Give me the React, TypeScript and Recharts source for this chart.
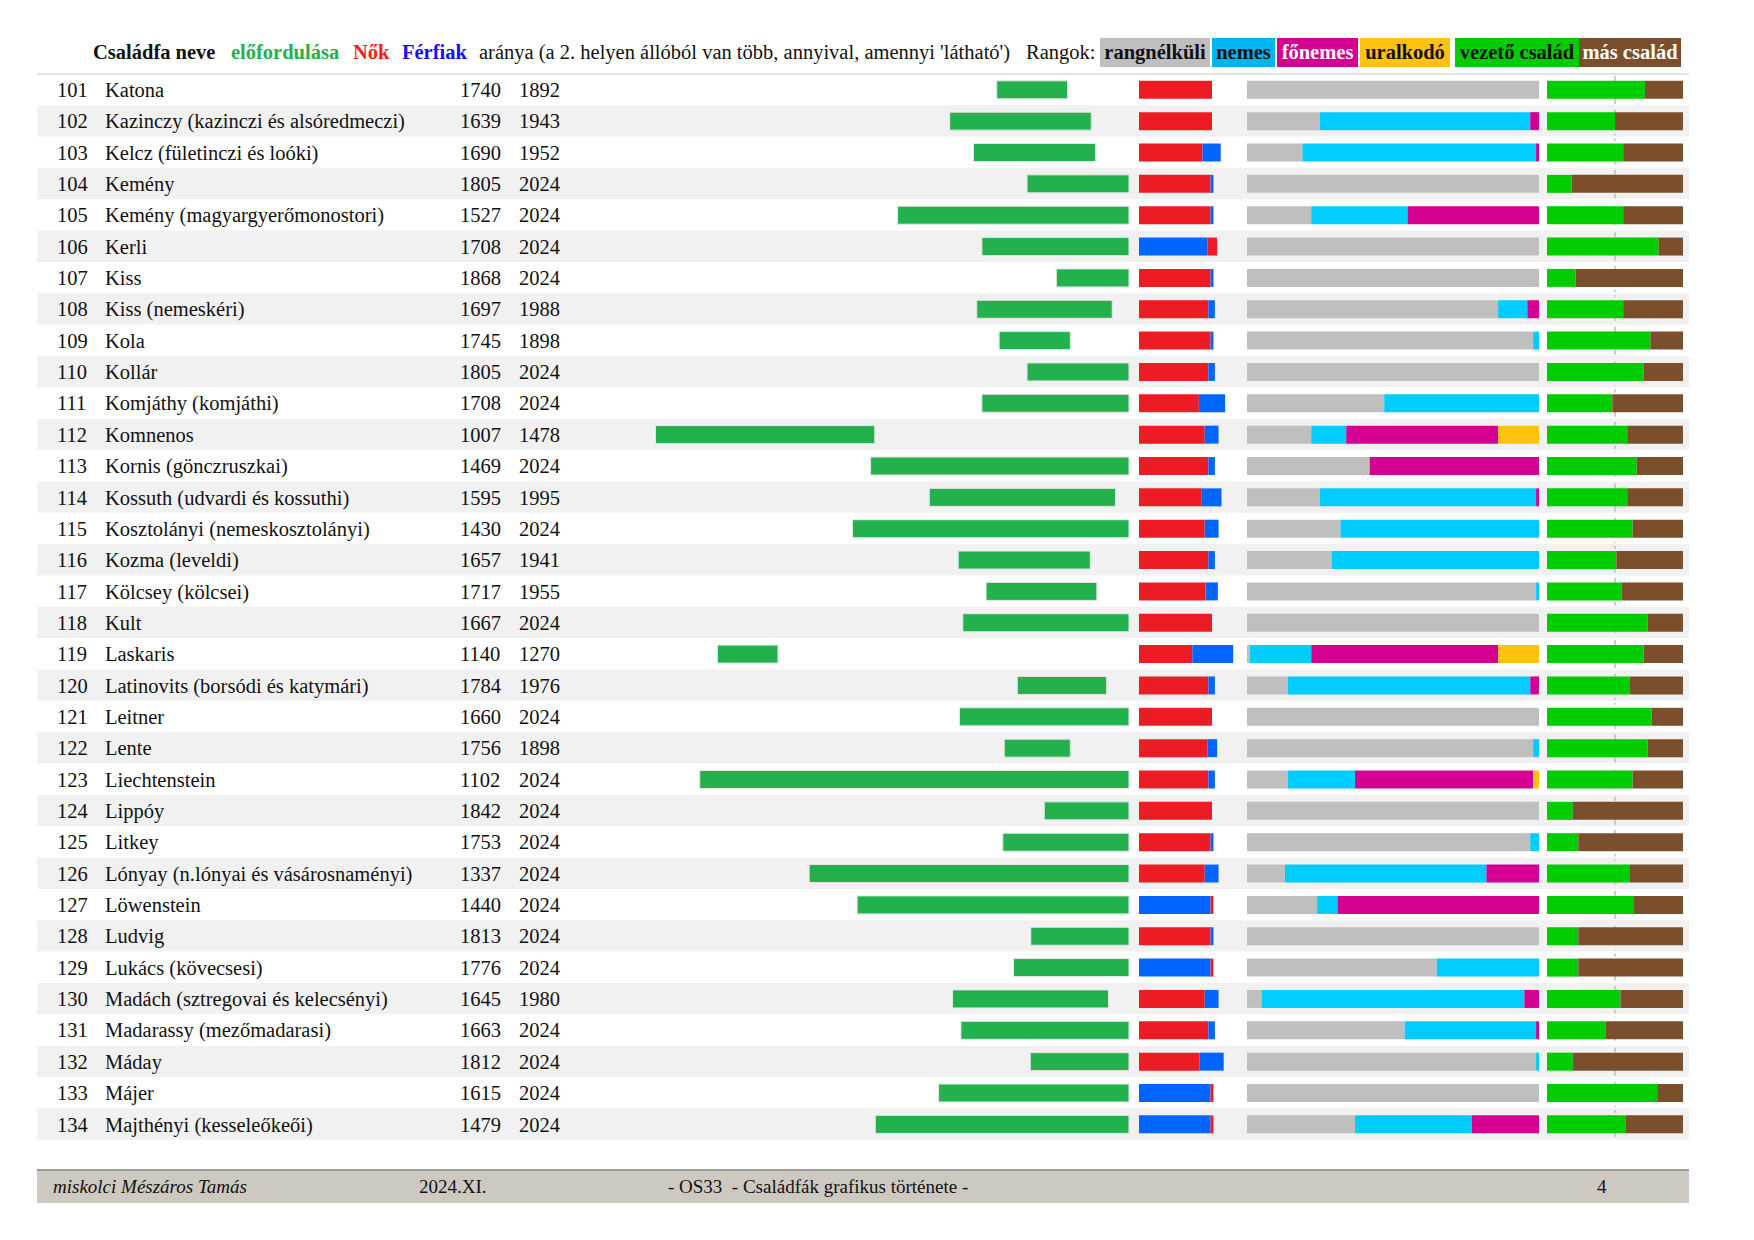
import React from 'react';
import { ComposedChart, Bar, XAxis, YAxis, ReferenceArea, LabelList } from 'recharts';

const rowNumbers = ['101','102','103','104','105','106','107','108','109','110','111','112','113','114','115','116','117','118','119','120','121','122','123','124','125','126','127','128','129','130','131','132','133','134'];
const familyNames = [
  'Katona', 'Kazinczy (kazinczi és alsóredmeczi)', 'Kelcz (fületinczi és loóki)', 'Kemény',
  'Kemény (magyargyerőmonostori)', 'Kerli', 'Kiss', 'Kiss (nemeskéri)', 'Kola', 'Kollár',
  'Komjáthy (komjáthi)', 'Komnenos', 'Kornis (gönczruszkai)', 'Kossuth (udvardi és kossuthi)',
  'Kosztolányi (nemeskosztolányi)', 'Kozma (leveldi)', 'Kölcsey (kölcsei)', 'Kult', 'Laskaris',
  'Latinovits (borsódi és katymári)', 'Leitner', 'Lente', 'Liechtenstein', 'Lippóy', 'Litkey',
  'Lónyay (n.lónyai és vásárosnaményi)', 'Löwenstein', 'Ludvig', 'Lukács (kövecsesi)',
  'Madách (sztregovai és kelecsényi)', 'Madarassy (mezőmadarasi)', 'Máday', 'Májer', 'Majthényi (kesseleőkeői)'
];
const firstYears = [1740,1639,1690,1805,1527,1708,1868,1697,1745,1805,1708,1007,1469,1595,1430,1657,1717,1667,1140,1784,1660,1756,1102,1842,1753,1337,1440,1813,1776,1645,1663,1812,1615,1479];
const lastYears = [1892,1943,1952,2024,2024,2024,2024,1988,1898,2024,2024,1478,2024,1995,2024,1941,1955,2024,1270,1976,2024,1898,2024,2024,2024,2024,2024,2024,2024,1980,2024,2024,2024,2024];
// N = nők (women) in first place, F = férfiak (men) in first place
const leadingSex = ['N','N','N','N','N','F','N','N','N','N','N','N','N','N','N','N','N','N','N','N','N','N','N','N','N','N','F','N','F','N','N','N','F','F'];
const leadingShare = [100,100,87,98,98,94,98,95,98,95,82,90,95,86,90,95,91,100,73,95,100,94,95,100,98,90,98,98,98,90,95,83,98,98];
const secondShare = [0,0,25,4,4,13,4,9,4,9,36,19,9,27,19,9,17,0,56,9,0,13,9,0,4,19,4,4,4,19,9,33,4,4];
const rankNone = [100,25,19,100,22,100,100,86,98,100,47,22,42,25,32,29,99,100,1,14,100,98,14,100,97,13,24,100,65,5,54,99,100,37];
const rankNoble = [0,72,80,0,33,0,0,10,2,0,53,12,0,74,68,71,1,0,21,83,0,2,23,0,3,69,7,0,35,90,45,1,0,40];
const rankHighNoble = [0,3,1,0,45,0,0,4,0,0,0,52,58,1,0,0,0,0,64,3,0,0,61,0,0,18,69,0,0,5,1,0,0,23];
const rankRuler = [0,0,0,0,0,0,0,0,0,0,0,14,0,0,0,0,0,0,14,0,0,0,2,0,0,0,0,0,0,0,0,0,0,0];
const leadingFamily = [72,50,56,18,56,82,21,56,76,71,48,59,66,59,63,51,55,74,71,61,77,74,63,19,23,61,64,23,23,54,43,19,81,58];
const otherFamily = [28,50,44,82,44,18,79,44,24,29,52,41,34,41,37,49,45,26,29,39,23,26,37,81,77,39,36,77,77,46,57,81,19,42];
const familyHalfMark = 50;

const rows = rowNumbers.map((num, i) => ({
  num,
  span: [firstYears[i], lastYears[i]],
  womenFirst: leadingSex[i] === 'N' ? leadingShare[i] : 0,
  men: leadingSex[i] === 'N' ? secondShare[i] : leadingShare[i],
  womenSecond: leadingSex[i] === 'N' ? 0 : secondShare[i],
  none: rankNone[i],
  noble: rankNoble[i],
  high: rankHighNoble[i],
  ruler: rankRuler[i],
  lead: leadingFamily[i],
  other: otherFamily[i],
  half: familyHalfMark,
}));

const C = {
  timeline: '#22B14C',
  women: '#ED1C24',
  men: '#0066FF',
  none: '#BFBFBF',
  noble: '#00CCFF',
  high: '#D40092',
  ruler: '#FFC20E',
  lead: '#00CC00',
  other: '#7B4F2C',
  stripe: '#F1F1F1',
  text: '#111111',
};

const FONT = '"Liberation Serif", "Times New Roman", serif';
const PLOT_LEFT = 37;
const PLOT_RIGHT = 1689;
const PLOT_TOP = 73.8;
const PLOT_BOTTOM = 1139.7;
const ROW_PITCH = (PLOT_BOTTOM - PLOT_TOP) / 34;

const axisDomain = (v0: number, p0: number, v1: number, p1: number): [number, number] => {
  const k = (p1 - p0) / (v1 - v0);
  return [v0 - (p0 - PLOT_LEFT) / k, v1 + (PLOT_RIGHT - p1) / k];
};
const yearDomain = axisDomain(1007, 655.5, 2024, 1129);
const ratioDomain = axisDomain(0, 1139, 100, 1212);
const rankDomain = axisDomain(0, 1247, 100, 1539);
const familyDomain = axisDomain(0, 1547, 100, 1683);

const RowLabel = (props: any) => {
  const { index, y, height } = props;
  if (index == null || index < 0 || index >= rowNumbers.length) return null;
  const cy = Number(y) + Number(height) / 2;
  const common = { y: cy, dy: '0.35em', fill: C.text, fontFamily: FONT, fontSize: 20.5 } as any;
  return (
    <g>
      <text {...common} x={57}>{rowNumbers[index]}</text>
      <text {...common} x={105}>{familyNames[index]}</text>
      <text {...common} x={460}>{firstYears[index]}</text>
      <text {...common} x={519}>{lastYears[index]}</text>
    </g>
  );
};

const DashedMark = (props: any) => {
  const { x, y, width, height } = props;
  const lx = Number(x) + Number(width);
  return (
    <line x1={lx} x2={lx} y1={y} y2={Number(y) + Number(height)} stroke="#BDBDBD" strokeWidth={1.5}
      strokeDasharray="7 5" strokeDashoffset={Number(y) - PLOT_TOP} />
  );
};

const headerItems = [
  { text: 'Családfa neve', x: 93, color: '#111', bold: true },
  { text: 'előfordulása', x: 231, color: '#22B14C', bold: true },
  { text: 'Nők', x: 353, color: '#FF1A1A', bold: true },
  { text: 'Férfiak', x: 402, color: '#1010FF', bold: true },
  { text: "aránya (a 2. helyen állóból van több, annyival, amennyi 'látható')", x: 479, color: '#111', bold: false },
  { text: 'Rangok:', x: 1026, color: '#111', bold: false },
];
const legendBoxes = [
  { text: 'rangnélküli', x: 1100, w: 110, bg: C.none, color: '#111' },
  { text: 'nemes', x: 1212, w: 63, bg: '#00B4F0', color: '#111' },
  { text: 'főnemes', x: 1277, w: 81, bg: C.high, color: '#fff' },
  { text: 'uralkodó', x: 1360, w: 90, bg: C.ruler, color: '#111' },
  { text: 'vezető család', x: 1455, w: 124, bg: C.lead, color: '#111' },
  { text: 'más család', x: 1579, w: 102, bg: C.other, color: '#fff' },
];
const footerItems = [
  { text: 'miskolci Mészáros Tamás', x: 53, italic: true },
  { text: '2024.XI.', x: 419, italic: false },
  { text: '- OS33  - Családfák grafikus története -', x: 668, italic: false },
  { text: '4', x: 1597, italic: false },
];

export default function App() {
  return (
    <div style={{ position: 'absolute', left: 0, top: 0, width: 1754, height: 1240, background: '#fff', fontFamily: FONT, overflow: 'hidden' }}>
      {headerItems.map((h) => (
        <div key={h.text} style={{ position: 'absolute', left: h.x, top: 38, height: 29, lineHeight: '29px', fontSize: 20.5, fontWeight: h.bold ? 700 : 400, color: h.color, whiteSpace: 'pre' }}>{h.text}</div>
      ))}
      {legendBoxes.map((b) => (
        <div key={b.text} style={{ position: 'absolute', left: b.x, top: 38, width: b.w, height: 29, lineHeight: '29px', background: b.bg, color: b.color, fontSize: 20.5, fontWeight: 700, textAlign: 'center', whiteSpace: 'pre' }}>{b.text}</div>
      ))}
      <div style={{ position: 'absolute', left: PLOT_LEFT, top: 72.5, width: PLOT_RIGHT - PLOT_LEFT, height: 2, background: '#E2E2E2' }} />
      <div style={{ position: 'absolute', left: 0, top: 0 }}>
        <ComposedChart
          width={1754}
          height={1240}
          data={rows}
          layout="vertical"
          barCategoryGap={0}
          margin={{ top: PLOT_TOP, bottom: 1240 - PLOT_BOTTOM, left: PLOT_LEFT, right: 1754 - PLOT_RIGHT }}
        >
          <XAxis xAxisId="yr" type="number" domain={yearDomain} allowDataOverflow hide />
          <XAxis xAxisId="ratio" type="number" domain={ratioDomain} allowDataOverflow hide />
          <XAxis xAxisId="rank" type="number" domain={rankDomain} allowDataOverflow hide />
          <XAxis xAxisId="fam" type="number" domain={familyDomain} allowDataOverflow hide />
          <YAxis yAxisId="rowsA" type="category" dataKey="num" width={0} hide />
          <YAxis yAxisId="rowsB" type="category" dataKey="num" width={0} hide />
          <YAxis yAxisId="rowsC" type="category" dataKey="num" width={0} hide />
          <YAxis yAxisId="rowsD" type="category" dataKey="num" width={0} hide />
          <YAxis yAxisId="rowsE" type="category" dataKey="num" width={0} hide />
          {rows.filter((_, i) => i % 2 === 1).map((r) => (
            <ReferenceArea key={'s' + r.num} xAxisId="yr" yAxisId="rowsA" y1={r.num} y2={r.num} fill={C.stripe} fillOpacity={1} stroke="none" ifOverflow="visible" />
          ))}
          <Bar xAxisId="fam" yAxisId="rowsE" dataKey="half" barSize={ROW_PITCH + 0.5} fill="none" shape={<DashedMark />} isAnimationActive={false} />
          <Bar xAxisId="yr" yAxisId="rowsA" dataKey="span" fill={C.timeline} stroke="#E6E6E6" strokeWidth={1} barSize={18} isAnimationActive={false}>
            <LabelList dataKey="num" content={<RowLabel />} />
          </Bar>
          <Bar xAxisId="ratio" yAxisId="rowsB" dataKey="womenFirst" stackId="ratio" fill={C.women} barSize={18} isAnimationActive={false} />
          <Bar xAxisId="ratio" yAxisId="rowsB" dataKey="men" stackId="ratio" fill={C.men} barSize={18} isAnimationActive={false} />
          <Bar xAxisId="ratio" yAxisId="rowsB" dataKey="womenSecond" stackId="ratio" fill={C.women} barSize={18} isAnimationActive={false} />
          <Bar xAxisId="rank" yAxisId="rowsC" dataKey="none" stackId="rank" fill={C.none} barSize={18} isAnimationActive={false} />
          <Bar xAxisId="rank" yAxisId="rowsC" dataKey="noble" stackId="rank" fill={C.noble} barSize={18} isAnimationActive={false} />
          <Bar xAxisId="rank" yAxisId="rowsC" dataKey="high" stackId="rank" fill={C.high} barSize={18} isAnimationActive={false} />
          <Bar xAxisId="rank" yAxisId="rowsC" dataKey="ruler" stackId="rank" fill={C.ruler} barSize={18} isAnimationActive={false} />
          <Bar xAxisId="fam" yAxisId="rowsD" dataKey="lead" stackId="fam" fill={C.lead} barSize={18} isAnimationActive={false} />
          <Bar xAxisId="fam" yAxisId="rowsD" dataKey="other" stackId="fam" fill={C.other} barSize={18} isAnimationActive={false} />
        </ComposedChart>
      </div>
      <div style={{ position: 'absolute', left: PLOT_LEFT, top: 1169, width: PLOT_RIGHT - PLOT_LEFT, height: 33.5, background: '#CDC9C1', borderTop: '2.5px solid #9A9A9A', boxSizing: 'border-box' }}>
        {footerItems.map((f) => (
          <div key={f.text} style={{ position: 'absolute', left: f.x - PLOT_LEFT, top: 1, height: 30, lineHeight: '30px', fontSize: 19, fontStyle: f.italic ? 'italic' : 'normal', color: '#111', whiteSpace: 'pre' }}>{f.text}</div>
        ))}
      </div>
    </div>
  );
}
